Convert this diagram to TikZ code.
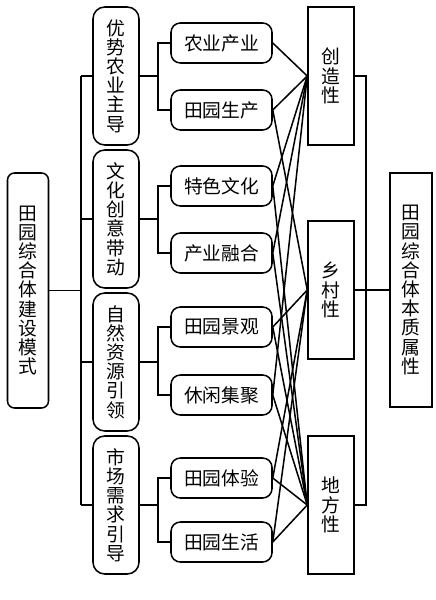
\documentclass[tikz,border=0pt]{standalone}
\usepackage{fontspec}
\setmainfont{Noto Sans CJK SC}
\usetikzlibrary{positioning}

\begin{document}
\begin{tikzpicture}[
        x=0.03cm, y=-0.03cm,
        box/.style={rectangle, draw=black, line width=1.3pt, align=center, inner sep=0pt, font=\fontsize{16}{16.4}\selectfont},
        rootbox/.style={box, rounded corners=6pt, minimum width=1.23cm, minimum height=7.05cm},
        mode/.style={box, rounded corners=10pt, minimum width=1.38cm, minimum height=4.14cm},
        leaf/.style={box, rounded corners=8pt, minimum width=3.03cm, minimum height=1.2cm},
        prop/.style={box, minimum width=1.38cm, minimum height=4.14cm},
        attr/.style={box, minimum width=1.26cm, minimum height=7.02cm},
        link/.style={line width=1.3pt, draw=black}
    ]
        \useasboundingbox (0,0) rectangle (435,600);

        \node[rootbox] (root) at (28,290.5) {田\\园\\综\\合\\体\\建\\设\\模\\式};

        \node[mode] (m1) at (116,76) {优\\势\\农\\业\\主\\导};
        \node[mode] (m2) at (116,219) {文\\化\\创\\意\\带\\动};
        \node[mode] (m3) at (116,362) {自\\然\\资\\源\\引\\领};
        \node[mode] (m4) at (116,505) {市\\场\\需\\求\\引\\导};

        \node[leaf] (l1) at (221.5,43) {农业产业};
        \node[leaf] (l2) at (221.5,110) {田园生产};
        \node[leaf] (l3) at (221.5,186) {特色文化};
        \node[leaf] (l4) at (221.5,253) {产业融合};
        \node[leaf] (l5) at (221.5,327) {田园景观};
        \node[leaf] (l6) at (221.5,395) {休闲集聚};
        \node[leaf] (l7) at (221.5,478) {田园体验};
        \node[leaf] (l8) at (221.5,542) {田园生活};

        \node[prop] (p1) at (331,76) {创\\造\\性};
        \node[prop] (p2) at (331,290) {乡\\村\\性};
        \node[prop] (p3) at (331,505) {地\\方\\性};

        \node[attr] (attr) at (411,290) {田\\园\\综\\合\\体\\本\\质\\属\\性};

        \coordinate (trunk) at (81,0);
        \coordinate (sub) at (158,0);
        \coordinate (bus) at (366,0);

        % root to the four modes
        \draw[link] (root.east) -- (root.east -| trunk);
        \draw[link] (m1.west -| trunk) -- (m4.west -| trunk);
        \draw[link] (m1.west -| trunk) -- (m1.west);
        \draw[link] (m2.west -| trunk) -- (m2.west);
        \draw[link] (m3.west -| trunk) -- (m3.west);
        \draw[link] (m4.west -| trunk) -- (m4.west);

        % modes to their contents
        \draw[link] (m1.east) -- (m1.east -| sub);
        \draw[link] (l1.west) -- (l1.west -| sub) |- (l2.west);
        \draw[link] (m2.east) -- (m2.east -| sub);
        \draw[link] (l3.west) -- (l3.west -| sub) |- (l4.west);
        \draw[link] (m3.east) -- (m3.east -| sub);
        \draw[link] (l5.west) -- (l5.west -| sub) |- (l6.west);
        \draw[link] (m4.east) -- (m4.east -| sub);
        \draw[link] (l7.west) -- (l7.west -| sub) |- (l8.west);

        % contents to attributes
        \draw[link] (l1.east) -- (p1.west);
        \draw[link] (l2.east) -- (p1.west);
        \draw[link] (l2.east) -- (p2.west);
        \draw[link] (l3.east) -- (p1.west);
        \draw[link] (l3.east) -- (p3.west);
        \draw[link] (l4.east) -- (p1.west);
        \draw[link] (l4.east) -- (p3.west);
        \draw[link] (l5.east) -- (p2.west);
        \draw[link] (l5.east) -- (p3.west);
        \draw[link] (l6.east) -- (p1.west);
        \draw[link] (l6.east) -- (p3.west);
        \draw[link] (l7.east) -- (p2.west);
        \draw[link] (l7.east) -- (p3.west);
        \draw[link] (l8.east) -- (p2.west);
        \draw[link] (l8.east) -- (p3.west);

        % attributes to the whole
        \draw[link] (p1.east) -- (p1.east -| bus) -- (p3.east -| bus) -- (p3.east);
        \draw[link] (p2.east) -- (attr.west);
    \end{tikzpicture}
\end{document}
